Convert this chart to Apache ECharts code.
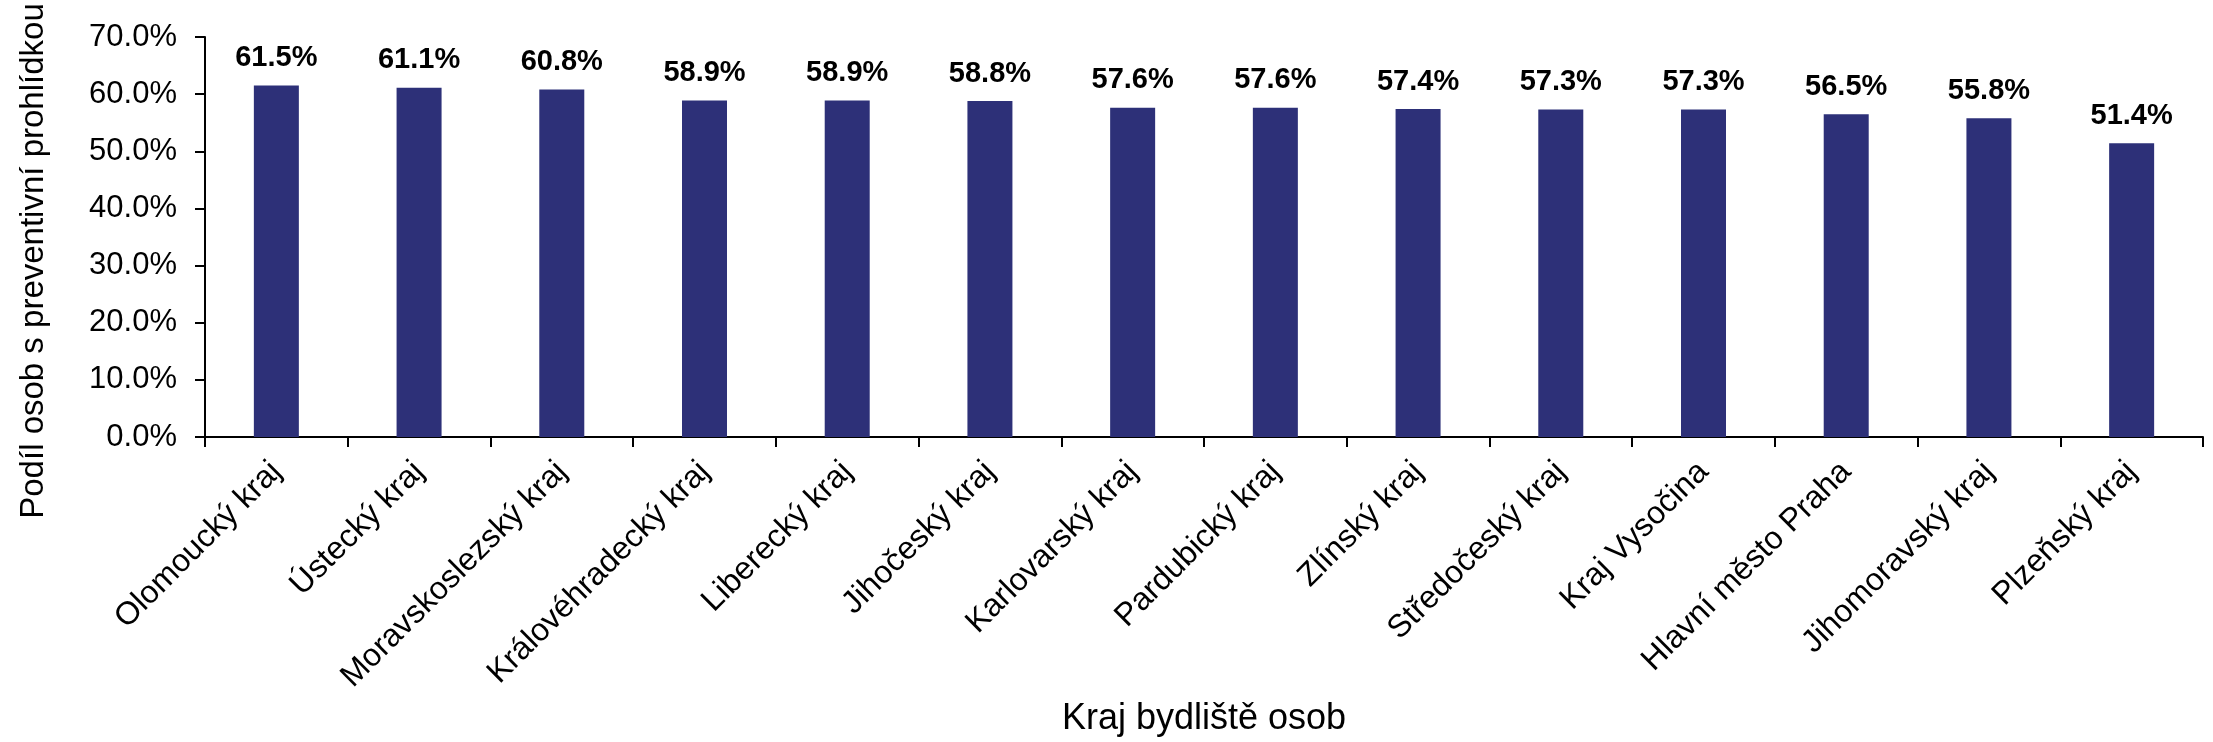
<!DOCTYPE html>
<html>
<head>
<meta charset="utf-8">
<script src="https://cdn.jsdelivr.net/npm/echarts@6/dist/echarts.min.js"></script>
<style>
html,body{margin:0;padding:0;background:#fff;}
#chart{width:2213px;height:742px;}
</style>
</head>
<body>
<div id="chart"></div>
<script>
const categories = ["Olomoucký kraj","Ústecký kraj","Moravskoslezský kraj","Královéhradecký kraj","Liberecký kraj","Jihočeský kraj","Karlovarský kraj","Pardubický kraj","Zlínský kraj","Středočeský kraj","Kraj Vysočina","Hlavní město Praha","Jihomoravský kraj","Plzeňský kraj"];
const values = [61.5,61.1,60.8,58.9,58.9,58.8,57.6,57.6,57.4,57.3,57.3,56.5,55.8,51.4];
const yAxisTitle = "Podíl osob s preventivní prohlídkou";
const xAxisTitle = "Kraj bydliště osob";

const FONT = "'Liberation Sans', Arial, sans-serif";
const chart = echarts.init(document.getElementById('chart'));
chart.setOption({
  animation: false,
  backgroundColor: '#ffffff',
  grid: {left: 205, right: 10, top: 37, bottom: 295, containLabel: false},
  xAxis: {
    type: 'category',
    data: categories,
    name: xAxisTitle,
    nameLocation: 'middle',
    nameGap: 264,
    nameTextStyle: {fontFamily: FONT, fontSize: 36, color: '#000'},
    axisLine: {lineStyle: {color: '#000', width: 2}},
    axisTick: {show: true, alignWithLabel: false, length: 10, lineStyle: {color: '#000', width: 2}},
    axisLabel: {rotate: 45, interval: 0, margin: 30, fontFamily: FONT, fontSize: 32, color: '#000'}
  },
  yAxis: {
    type: 'value',
    min: 0, max: 70, interval: 10,
    name: yAxisTitle,
    nameLocation: 'middle',
    nameGap: 155,
    nameTextStyle: {fontFamily: FONT, fontSize: 33, color: '#000', padding: [0, 48, 0, 0]},
    splitLine: {show: false},
    axisLine: {show: true, lineStyle: {color: '#000', width: 2}},
    axisTick: {show: true, length: 10, lineStyle: {color: '#000', width: 2}},
    axisLabel: {margin: 28, fontFamily: FONT, fontSize: 31, color: '#000',
      formatter: v => v.toFixed(1) + '%'}
  },
  series: [{
    type: 'bar',
    data: values,
    barWidth: 45,
    itemStyle: {color: '#2D3078'},
    label: {show: true, position: 'top', distance: 13, fontFamily: FONT, fontSize: 29, fontWeight: 'bold', color: '#000',
      formatter: p => p.value.toFixed(1) + '%'}
  }]
});
</script>
</body>
</html>
